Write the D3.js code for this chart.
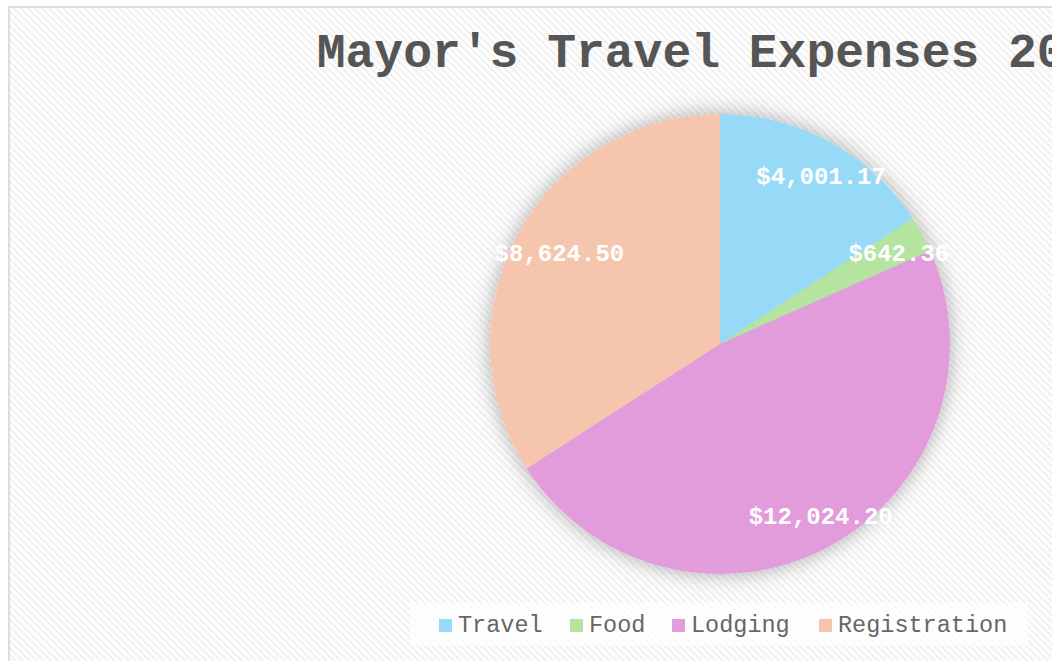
<!DOCTYPE html>
<html lang="en">
<head>
<meta charset="UTF-8">
<title>Mayor's Travel Expenses</title>
<script src="https://cdn.jsdelivr.net/npm/d3@7"></script>
<style>
    html, body { margin: 0; padding: 0; overflow: hidden; background: #fff; }
    svg { display: block; }
    text { font-family: "Courier New", Courier, "Liberation Mono", monospace; }
</style>
</head>
<body>
<div id="chart"></div>
<script>
    var categories = ["Travel", "Food", "Lodging", "Registration"];
    var values = [4001.17, 642.36, 12024.20, 8624.50];
    var colors = ["#97daf7", "#b4e4a0", "#e29bdb", "#f5c6ad"];
    var title = "Mayor's Travel Expenses 2017";

    var width = 1052, height = 661;
    // the chart was wider than the window, centred at x = 720
    var cx = 720, cy = 344, radius = 230;

    var svg = d3.select("#chart").append("svg")
        .attr("width", width)
        .attr("height", height);

    var defs = svg.append("defs");
    var pat = defs.append("pattern")
        .attr("id", "stripes")
        .attr("patternUnits", "userSpaceOnUse")
        .attr("width", 5).attr("height", 5)
        .attr("patternTransform", "rotate(45)");
    pat.append("rect").attr("width", 5).attr("height", 5).attr("fill", "#ffffff");
    pat.append("rect").attr("width", 5).attr("height", 2.5).attr("fill", "#f1f1f1");

    var shadow = defs.append("filter")
        .attr("id", "shadow")
        .attr("x", "-30%").attr("y", "-30%")
        .attr("width", "160%").attr("height", "160%");
    shadow.append("feDropShadow")
        .attr("dx", 0).attr("dy", 0)
        .attr("stdDeviation", 10)
        .attr("flood-color", "#000")
        .attr("flood-opacity", 0.32);

    // background + border
    svg.append("rect")
        .attr("x", 9).attr("y", 7)
        .attr("width", 1500).attr("height", 700)
        .attr("fill", "url(#stripes)")
        .attr("stroke", "#dcdcdc")
        .attr("stroke-width", 2);

    svg.append("text")
        .attr("x", cx)
        .attr("y", 67)
        .attr("text-anchor", "middle")
        .attr("font-size", 48)
        .attr("font-weight", "bold")
        .attr("fill", "#555")
        .text(title);

    var pie = d3.pie().sort(null).value(function (d) { return d; });
    var arcs = pie(values);
    var arc = d3.arc().innerRadius(0).outerRadius(radius);
    var labelArc = d3.arc().innerRadius(radius * 0.84).outerRadius(radius * 0.84);

    var g = svg.append("g").attr("transform", "translate(" + cx + "," + cy + ")");

    g.append("g")
        .attr("filter", "url(#shadow)")
        .selectAll("path")
        .data(arcs)
        .enter()
        .append("path")
        .attr("d", arc)
        .attr("fill", function (d, i) { return colors[i]; });

    var fmt = d3.format("$,.2f");
    g.selectAll(".label")
        .data(arcs)
        .enter()
        .append("text")
        .attr("class", "label")
        .attr("transform", function (d) { return "translate(" + labelArc.centroid(d) + ")"; })
        .attr("text-anchor", "middle")
        .attr("dx", 9)
        .attr("dy", "0.4em")
        .attr("font-size", 24)
        .attr("font-weight", "bold")
        .attr("fill", "#fff")
        .text(function (d) { return fmt(d.data); });

    // legend
    var legend = svg.append("g");
    legend.append("rect")
        .attr("x", 410).attr("y", 603)
        .attr("width", 618).attr("height", 43)
        .attr("fill", "#fff")
        .attr("fill-opacity", 0.7);

    var itemX = [439, 570, 672, 819];
    var items = legend.selectAll(".item")
        .data(categories)
        .enter()
        .append("g")
        .attr("class", "item")
        .attr("transform", function (d, i) { return "translate(" + itemX[i] + ",619)"; });
    items.append("rect")
        .attr("width", 13).attr("height", 13)
        .attr("fill", function (d, i) { return colors[i]; });
    items.append("text")
        .attr("x", 19)
        .attr("y", 13)
        .attr("font-size", 23.5)
        .attr("fill", "#666")
        .text(function (d) { return d; });
</script>
</body>
</html>
